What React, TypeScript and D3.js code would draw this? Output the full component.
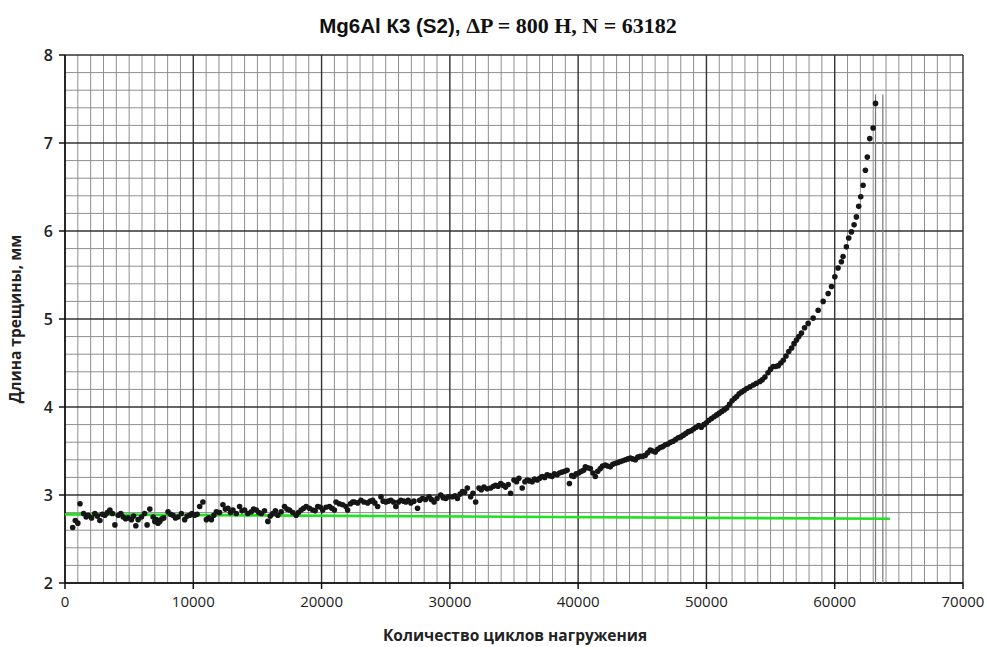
import React from "react";
import * as d3 from "d3";

// Number of load cycles for each measured point
const cycles: number[] = [
  600, 800, 1000, 1170, 1450, 1650, 1810, 2070, 2330, 2520,
  2720, 2900, 3110, 3300, 3500, 3700, 3890, 4150, 4350, 4540,
  4720, 4920, 5180, 5350, 5520, 5700, 5960, 6200, 6400, 6610,
  6870, 7000, 7130, 7250, 7390, 7550, 7700, 8030, 8220, 8420,
  8610, 8810, 9070, 9330, 9520, 9720, 9900, 10100, 10300, 10500,
  10750, 11020, 11200, 11410, 11600, 11800, 12050, 12310, 12500, 12700,
  12900, 13090, 13350, 13610, 13800, 14000, 14250, 14520, 14700, 14910,
  15100, 15300, 15550, 15810, 16000, 16200, 16400, 16590, 16850, 17110,
  17300, 17500, 17750, 18020, 18200, 18410, 18600, 18800, 19050, 19310,
  19500, 19700, 19900, 20090, 20350, 20610, 20800, 21000, 21130, 21380,
  21640, 21900, 22030, 22250, 22420, 22550, 22810, 23070, 23300, 23590,
  23800, 23980, 24150, 24370, 24630, 24800, 25010, 25200, 25400, 25600,
  25790, 26000, 26180, 26400, 26570, 26750, 26960, 27200, 27480, 27650,
  27860, 28100, 28380, 28550, 28770, 29000, 29290, 29480, 29680, 29900,
  30200, 30400, 30590, 30800, 30980, 31150, 31360, 31620, 31800, 32010,
  32270, 32450, 32660, 32900, 33180, 33400, 33570, 33750, 33960, 34150,
  34340, 34550, 34730, 35000, 35200, 35380, 35640, 35850, 36030, 36220,
  36420, 36600, 36810, 37000, 37190, 37400, 37580, 37780, 37970, 38150,
  38360, 38550, 38750, 38950, 39140, 39320, 39500, 39660, 39850, 40050,
  40250, 40430, 40560, 40750, 40950, 41150, 41340, 41530, 41730, 41900,
  42120, 42300, 42510, 42700, 42900, 43100, 43290, 43480, 43680, 43880,
  44070, 44250, 44460, 44650, 44840, 45030, 45230, 45420, 45620, 45800,
  46010, 46200, 46400, 46600, 46800, 47000, 47200, 47400, 47600, 47800,
  48000, 48200, 48400, 48600, 48800, 49000, 49200, 49400, 49600, 49800,
  50000, 50200, 50400, 50600, 50800, 51000, 51200, 51400, 51580, 51800,
  52000, 52200, 52360, 52550, 52750, 52950, 53150, 53400, 53660, 53900,
  54170, 54350, 54560, 54800, 55000, 55210, 55400, 55600, 55800, 55990,
  56200, 56420, 56640, 56830, 57020, 57200, 57410, 57650, 57930, 58320,
  58710, 59100, 59490, 59750, 60010, 60260, 60520, 60650, 60910, 61090,
  61300, 61510, 61690, 61870, 62030, 62210, 62390, 62540, 62730, 62990,
  63182,
];

// Crack length, mm
const crackLength: number[] = [
  2.63, 2.71, 2.68, 2.90, 2.79, 2.75, 2.77, 2.74, 2.79, 2.76,
  2.71, 2.78, 2.77, 2.80, 2.83, 2.79, 2.66, 2.77, 2.79, 2.75,
  2.73, 2.74, 2.72, 2.76, 2.65, 2.72, 2.75, 2.79, 2.66, 2.84,
  2.75, 2.70, 2.72, 2.68, 2.70, 2.73, 2.74, 2.81, 2.78, 2.77,
  2.74, 2.75, 2.79, 2.72, 2.76, 2.77, 2.79, 2.77, 2.78, 2.87,
  2.92, 2.72, 2.74, 2.72, 2.77, 2.81, 2.80, 2.89, 2.84, 2.85,
  2.80, 2.83, 2.79, 2.87, 2.82, 2.83, 2.79, 2.81, 2.84, 2.83,
  2.80, 2.79, 2.82, 2.70, 2.76, 2.79, 2.82, 2.77, 2.81, 2.87,
  2.84, 2.83, 2.80, 2.77, 2.80, 2.83, 2.85, 2.87, 2.85, 2.83,
  2.82, 2.87, 2.86, 2.83, 2.86, 2.87, 2.85, 2.83, 2.92, 2.90,
  2.89, 2.87, 2.83, 2.90, 2.92, 2.92, 2.91, 2.94, 2.92, 2.91,
  2.93, 2.94, 2.91, 2.87, 2.98, 2.93, 2.92, 2.93, 2.94, 2.92,
  2.87, 2.92, 2.94, 2.93, 2.92, 2.94, 2.91, 2.93, 2.85, 2.94,
  2.96, 2.95, 2.98, 2.95, 2.92, 2.96, 3.00, 2.97, 2.96, 2.98,
  2.98, 2.99, 2.96, 3.01, 3.04, 3.03, 3.08, 2.98, 3.02, 2.92,
  3.08, 3.06, 3.09, 3.07, 3.08, 3.10, 3.11, 3.10, 3.13, 3.11,
  3.09, 3.12, 3.02, 3.17, 3.15, 3.19, 3.08, 3.15, 3.17, 3.16,
  3.15, 3.18, 3.17, 3.19, 3.21, 3.20, 3.23, 3.22, 3.21, 3.24,
  3.23, 3.25, 3.26, 3.27, 3.28, 3.13, 3.22, 3.21, 3.24, 3.25,
  3.27, 3.28, 3.32, 3.31, 3.30, 3.25, 3.21, 3.27, 3.30, 3.33,
  3.34, 3.33, 3.32, 3.35, 3.36, 3.37, 3.38, 3.39, 3.40, 3.41,
  3.42, 3.41, 3.40, 3.43, 3.44, 3.44, 3.45, 3.48, 3.51, 3.50,
  3.49, 3.52, 3.54, 3.55, 3.57, 3.58, 3.60, 3.61, 3.63, 3.65,
  3.66, 3.68, 3.70, 3.72, 3.73, 3.75, 3.77, 3.79, 3.77, 3.80,
  3.82, 3.85, 3.87, 3.89, 3.91, 3.93, 3.95, 3.97, 3.99, 4.03,
  4.07, 4.10, 4.12, 4.15, 4.17, 4.19, 4.21, 4.23, 4.25, 4.27,
  4.29, 4.31, 4.34, 4.39, 4.43, 4.46, 4.46, 4.47, 4.50, 4.53,
  4.58, 4.63, 4.67, 4.72, 4.76, 4.80, 4.84, 4.90, 4.95, 5.01,
  5.10, 5.20, 5.29, 5.37, 5.48, 5.58, 5.65, 5.71, 5.82, 5.92,
  5.99, 6.07, 6.16, 6.28, 6.39, 6.52, 6.69, 6.84, 7.05, 7.17,
  7.45,
];

// Green reference (initial crack) line
const trendCycles: number[] = [0, 64300];
const trendLength: number[] = [2.78, 2.73];

// Vertical marks at failure
const failureCycles: number[] = [63182, 63750];
const failureTop = 7.55;

const xTicks: number[] = [0, 10000, 20000, 30000, 40000, 50000, 60000, 70000];
const yTicks: number[] = [2, 3, 4, 5, 6, 7, 8];

const titleSans = "Mg6Al К3 (S2), ";
const titleSerif = "ΔP = 800 Н, N = 63182";
const xLabel = "Количество циклов нагружения";
const yLabel = "Длина трещины, мм";

export default function App() {
  const W = 986;
  const H = 647;
  const x = d3.scaleLinear().domain([0, 70000]).range([65, 963]);
  const y = d3.scaleLinear().domain([2, 8]).range([583, 55]);

  const minorX = d3.range(0, 70001, 1000).filter((v) => v % 10000 !== 0);
  const minorY = d3.range(0, 31).map((i) => 2 + i * 0.2).filter((v) => Math.abs(v - Math.round(v)) > 1e-6);

  const trend = d3
    .line<number>()
    .x((_, i) => x(trendCycles[i]))
    .y((d) => y(d))(trendLength);

  const [x0, x1] = x.range();
  const [y0, y1] = y.range();

  return (
    <svg
      width={W}
      height={H}
      viewBox={`0 0 ${W} ${H}`}
      style={{ position: "absolute", left: 0, top: 0, background: "#fff" }}
    >
      <rect x={0} y={0} width={W} height={H} fill="#fff" />
      {/* minor grid */}
      <g stroke="#8e8e8e" strokeWidth={1}>
        {minorX.map((v) => (
          <line key={"mx" + v} x1={x(v)} x2={x(v)} y1={y1} y2={y0} />
        ))}
        {minorY.map((v) => (
          <line key={"my" + v} x1={x0} x2={x1} y1={y(v)} y2={y(v)} />
        ))}
      </g>
      {/* major grid */}
      <g stroke="#333" strokeWidth={1.4}>
        {xTicks.map((v) => (
          <line key={"Mx" + v} x1={x(v)} x2={x(v)} y1={y1} y2={y0} />
        ))}
        {yTicks.map((v) => (
          <line key={"My" + v} x1={x0} x2={x1} y1={y(v)} y2={y(v)} />
        ))}
      </g>
      {/* axes */}
      <g stroke="#111" strokeWidth={1.5}>
        <line x1={x0} x2={x0} y1={y1} y2={y0} />
        <line x1={x0} x2={x1} y1={y0} y2={y0} />
        {yTicks.map((v) => (
          <line key={"ty" + v} x1={x0 - 6} x2={x0} y1={y(v)} y2={y(v)} />
        ))}
        {xTicks.map((v) => (
          <line key={"tx" + v} x1={x(v)} x2={x(v)} y1={y0} y2={y0 + 6} />
        ))}
      </g>
      {/* failure marks */}
      <g stroke="#777" strokeWidth={1.2}>
        {failureCycles.map((v) => (
          <line key={"f" + v} x1={x(v)} x2={x(v)} y1={y(failureTop)} y2={y0} />
        ))}
      </g>
      {/* green line */}
      <path d={trend || ""} fill="none" stroke="#22e022" strokeWidth={2.6} />
      {/* points */}
      <g fill="#161616">
        {cycles.map((c, i) => (
          <circle key={"p" + i} cx={x(c)} cy={y(crackLength[i])} r={2.8} />
        ))}
      </g>
      {/* tick labels */}
      <g fontFamily="'Open Sans', sans-serif" fill="#222">
        {yTicks.map((v) => (
          <text key={"ly" + v} x={x0 - 12} y={y(v)} dy="0.36em" textAnchor="end" fontWeight={600} fontSize={16}>
            {v}
          </text>
        ))}
        {xTicks.map((v) => (
          <text key={"lx" + v} x={x(v)} y={y0 + 24} textAnchor="middle" fontSize={15}>
            {v}
          </text>
        ))}
      </g>
      {/* axis titles */}
      <text
        x={515}
        y={641}
        textAnchor="middle"
        fontFamily="'Open Sans', sans-serif"
        fontWeight={700}
        fontSize={15.5}
        fill="#222"
      >
        {xLabel}
      </text>
      <text
        transform={`translate(21, ${(y0 + y1) / 2}) rotate(-90)`}
        textAnchor="middle"
        fontFamily="'Open Sans', sans-serif"
        fontWeight={700}
        fontSize={15.5}
        fill="#222"
      >
        {yLabel}
      </text>
      {/* title */}
      <text x={498} y={33} textAnchor="middle" fill="#111" fontWeight={700}>
        <tspan fontFamily="'Liberation Sans', Arial, sans-serif" fontSize={20.5}>
          {titleSans}
        </tspan>
        <tspan fontFamily="'Liberation Serif', 'Times New Roman', serif" fontSize={22}>
          {titleSerif}
        </tspan>
      </text>
    </svg>
  );
}
